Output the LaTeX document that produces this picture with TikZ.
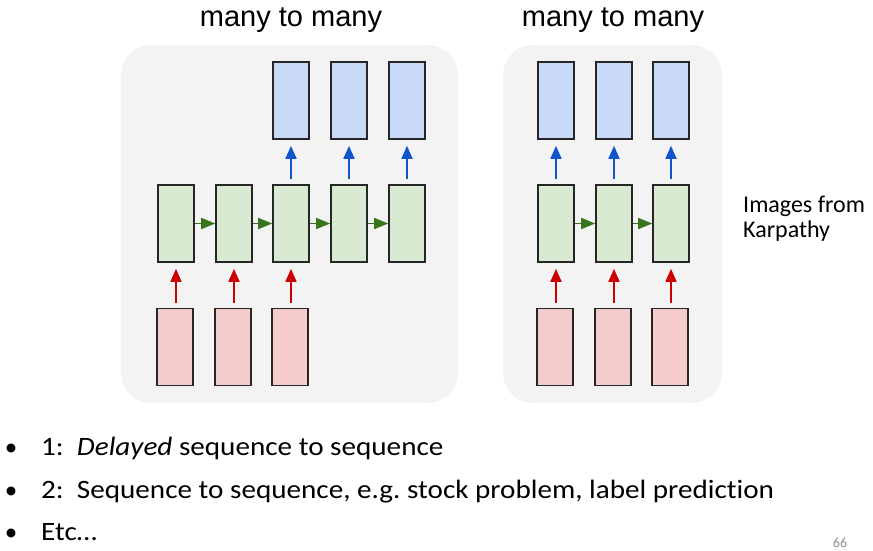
\documentclass[tikz,border=0pt]{standalone}
\usepackage{fontspec}
\setmainfont{Carlito}[Ligatures=NoCommon]
\newfontfamily\listfont{Carlito}[FakeStretch=1.1,Ligatures=NoCommon]
\newfontfamily\titlefont{Liberation Sans}
\usepackage{tikz}
\usetikzlibrary{arrows.meta}
\usetikzlibrary{positioning}
\definecolor{panelgray}{HTML}{F3F3F3}
\definecolor{cellgreen}{HTML}{D9EAD3}
\definecolor{cellblue}{HTML}{C9DAF8}
\definecolor{cellred}{HTML}{F4CCCC}
\definecolor{arrowred}{HTML}{CC0000}
\definecolor{arrowblue}{HTML}{1155CC}
\definecolor{arrowgreen}{HTML}{38761D}
\definecolor{pagegray}{HTML}{8C8C8C}
\frenchspacing

\begin{document}
\begin{tikzpicture}[
		x=1pt, y=-1pt,
		Panel/.style={fill=panelgray,draw=none,rounded corners=30pt},
		Cell/.style={draw=black!85,line width=1.6pt,rectangle,inner sep=0pt,minimum width=36pt,minimum height=77pt},
		Hidden/.style={Cell,fill=cellgreen},
		Output/.style={Cell,fill=cellblue},
		Input/.style={Cell,fill=cellred},
		InArrow/.style={draw=arrowred,line width=1.6pt,-{Triangle[length=13pt,width=11pt]},shorten <=5pt,shorten >=6pt},
		OutArrow/.style={draw=arrowblue,line width=1.6pt,-{Triangle[length=13pt,width=11pt]},shorten <=5pt,shorten >=6pt},
		StepArrow/.style={draw=arrowgreen,line width=1.6pt,-{Triangle[length=14pt,width=11pt]}},
		Title/.style={font=\titlefont\fontsize{29}{34}\selectfont,anchor=base},
		Bullet/.style={font=\listfont\fontsize{26.5}{32}\selectfont,anchor=base west,inner sep=0pt},
		Dot/.style={font=\fontsize{25}{28}\selectfont,anchor=base,inner sep=0pt}
		]
		\useasboundingbox (0,0) rectangle (873,551);
		
		% panels
		\path[Panel] (121,45) rectangle (458,403);
		\path[Panel] (503,45) rectangle (722,403);
		
		\node[Title] (titleA) at (291,27) {many to many};
		\node[Title] (titleB) at (613,27) {many to many};
		
		% delayed sequence to sequence
		\node[Hidden] (ha1) at (176,223.5) {};
		\node[Hidden] (ha2) at (234,223.5) {};
		\node[Hidden] (ha3) at (291,223.5) {};
		\node[Hidden] (ha4) at (349,223.5) {};
		\node[Hidden] (ha5) at (407,223.5) {};
		
		\node[Output] (oa3) at (291,100.5) {};
		\node[Output] (oa4) at (349,100.5) {};
		\node[Output] (oa5) at (407,100.5) {};
		
		\node[Input] (ia1) at (175,347) {};
		\node[Input] (ia2) at (233,347) {};
		\node[Input] (ia3) at (290,347) {};
		
		\draw[StepArrow] (ha1) -- (ha2);
		\draw[StepArrow] (ha2) -- (ha3);
		\draw[StepArrow] (ha3) -- (ha4);
		\draw[StepArrow] (ha4) -- (ha5);
		
		\draw[InArrow] (ia1.north -| ha1) -- (ha1.south);
		\draw[InArrow] (ia2.north -| ha2) -- (ha2.south);
		\draw[InArrow] (ia3.north -| ha3) -- (ha3.south);
		
		\draw[OutArrow] (ha3.north) -- (oa3.south);
		\draw[OutArrow] (ha4.north) -- (oa4.south);
		\draw[OutArrow] (ha5.north) -- (oa5.south);
		
		% sequence to sequence
		\node[Hidden] (hb1) at (556,223.5) {};
		\node[Hidden] (hb2) at (614,223.5) {};
		\node[Hidden] (hb3) at (671,223.5) {};
		
		\node[Output] (ob1) at (556,100.5) {};
		\node[Output] (ob2) at (614,100.5) {};
		\node[Output] (ob3) at (671,100.5) {};
		
		\node[Input] (ib1) at (555,347) {};
		\node[Input] (ib2) at (613,347) {};
		\node[Input] (ib3) at (670,347) {};
		
		\draw[StepArrow] (hb1) -- (hb2);
		\draw[StepArrow] (hb2) -- (hb3);
		
		\draw[InArrow] (ib1.north -| hb1) -- (hb1.south);
		\draw[InArrow] (ib2.north -| hb2) -- (hb2.south);
		\draw[InArrow] (ib3.north -| hb3) -- (hb3.south);
		
		\draw[OutArrow] (hb1.north) -- (ob1.south);
		\draw[OutArrow] (hb2.north) -- (ob2.south);
		\draw[OutArrow] (hb3.north) -- (ob3.south);
		
		\node[anchor=base west,inner sep=0pt,align=left,font=\fontsize{24}{25}\selectfont] (credit) at (743,237) {Images from\\Karpathy};
		
		% bullets
		\node[Dot] (dotA) at (11,455) {•};
		\node[Dot] (dotB) at (11,498) {•};
		\node[Dot] (dotC) at (11,540) {•};
		\node[Bullet] (lineA) at (41,455) {1:\ \ \textit{Delayed} sequence to sequence};
		\node[Bullet] (lineB) at (41,498) {2:\ \ Sequence to sequence, e.g. stock problem, label prediction};
		\node[Bullet] (lineC) at (41,540) {Etc…};
		
		\node[anchor=base,text=pagegray,font=\fontsize{14}{16}\selectfont] (page) at (840,547) {66};
		
		\end{tikzpicture}
\end{document}
